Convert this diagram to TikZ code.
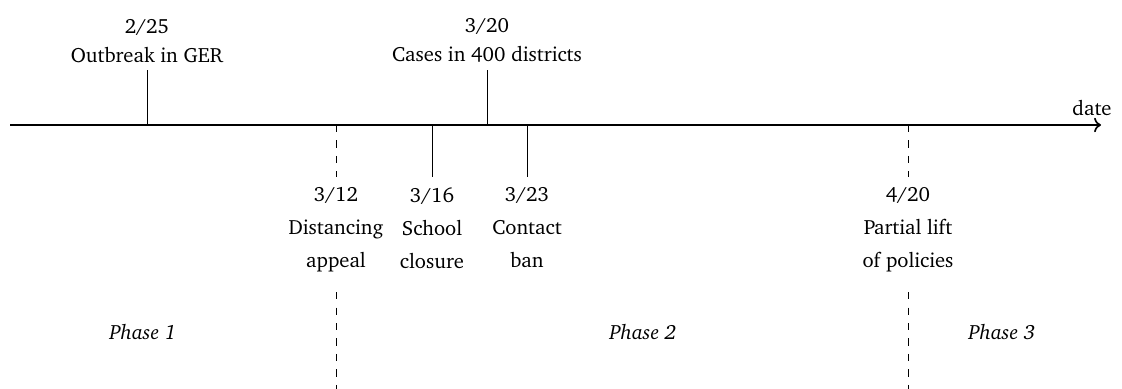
\documentclass[tikz,border=0pt]{standalone}
\usepackage[T1]{fontenc}
\usepackage{charter}
\usetikzlibrary{arrows.meta, positioning, calc}

\begin{document}
\begin{tikzpicture}[x=0.485pt, y=-0.485pt,
    event/.style={align=center},
    lowevent/.style={event, anchor=north, inner ysep=5pt},
    phaseline/.style={dash pattern=on 3.5pt off 4pt},
    phase/.style={font=\itshape}]
    \useasboundingbox (0,0) rectangle (1122,389);

    % time axis
    \coordinate (start) at (10,125);
    \coordinate (end) at (1101,125);
    \draw[thick, -{To}] (start) -- (end);
    \node (date) at (1092,108) {date};

    % points on the axis
    \coordinate (d225) at (147,125);
    \coordinate (d312) at (336,125);
    \coordinate (d316) at (432,125);
    \coordinate (d320) at (487,125);
    \coordinate (d323) at (527,125);
    \coordinate (d420) at (908,125);
    \coordinate (b312) at (336,389);
    \coordinate (b420) at (908,389);

    % events above
    \node[event, anchor=south] (e225) at (147,70) {2/25\\[2pt]Outbreak in GER};
    \node[event, anchor=south] (e320) at (487,70) {3/20\\[2pt]Cases in 400 districts};

    % events below
    \node[lowevent] (e312) at (336,177) {3/12\\[4pt]Distancing\\[4pt]appeal};
    \node[lowevent] (e316) at (432,177) {3/16\\[4pt]School\\[4pt]closure};
    \node[lowevent] (e323) at (527,177) {3/23\\[4pt]Contact\\[4pt]ban};
    \node[lowevent] (e420) at (908,177) {4/20\\[4pt]Partial lift\\[4pt]of policies};

    \draw (e225) -- (d225);
    \draw (e320) -- (d320);
    \draw (d316) -- (e316);
    \draw (d323) -- (e323);
    \draw[phaseline] (d312) -- (e312);
    \draw[phaseline, shorten <=4.5pt] (e312) -- (b312);
    \draw[phaseline] (d420) -- (e420);
    \draw[phaseline, shorten <=4.5pt] (e420) -- (b420);

    % phases
    \node[phase] (p1) at (143,332) {Phase 1};
    \node[phase] (p2) at (643,332) {Phase 2};
    \node[phase] (p3) at (1002,332) {Phase 3};
\end{tikzpicture}
\end{document}
